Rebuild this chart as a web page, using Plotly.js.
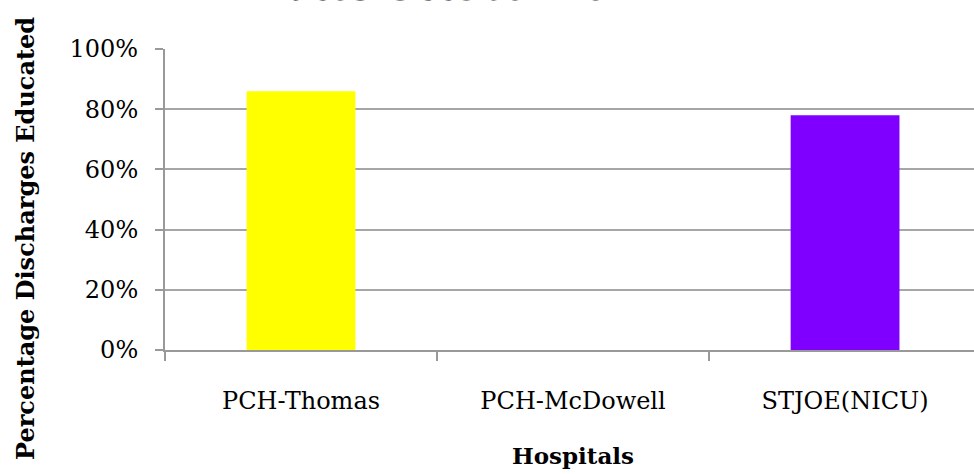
<!DOCTYPE html>
<html>
<head>
<meta charset="utf-8">
<script src="https://cdn.plot.ly/plotly-3.0.1.min.js"></script>
<style>html,body{margin:0;padding:0;background:#fff;}#chart{width:974px;height:474px;}</style>
</head>
<body>
<div id="chart"></div>
<script>
var hospitals = ["PCH-Thomas", "PCH-McDowell", "STJOE(NICU)"];
var educatedRates = [0.86, 0, 0.78];
var barColors = ["#ffff00", "#ffffff", "#8000ff"];
var yTickVals = [0, 0.2, 0.4, 0.6, 0.8, 1.0];
var yTickText = ["0%", "20%", "40%", "60%", "80%", "100%"];
var chartTitle = "Rates October 2011";
var xTitle = "Hospitals";
var yTitle = "Percentage Discharges Educated";

var serif = "DejaVu Serif, Liberation Serif, serif";

var trace = {
  type: "bar",
  x: hospitals,
  y: educatedRates,
  width: 0.4,
  marker: {color: barColors, line: {width: 0}},
  hoverinfo: "x+y"
};

var layout = {
  width: 974, height: 474,
  margin: {l: 165, r: 0, t: 49, b: 124},
  paper_bgcolor: "#ffffff",
  plot_bgcolor: "#ffffff",
  showlegend: false,
  font: {family: serif, color: "#000000", size: 22},
  xaxis: {
    type: "category",
    range: [-0.5, 2.474],
    tickson: "boundaries",
    ticks: "outside",
    ticklen: 9,
    tickwidth: 2,
    tickcolor: "#999999",
    showline: true,
    linecolor: "#999999",
    linewidth: 2,
    showgrid: false,
    zeroline: false,
    tickfont: {family: serif, size: 24},
    ticklabelstandoff: 28
  },
  yaxis: {
    range: [0, 1.0],
    tickvals: yTickVals,
    ticktext: yTickText,
    ticks: "outside",
    ticklen: 8,
    tickwidth: 2,
    tickcolor: "#999999",
    showline: true,
    linecolor: "#999999",
    linewidth: 2,
    showgrid: true,
    gridcolor: "#a6a6a6",
    gridwidth: 2,
    zeroline: false,
    tickfont: {family: serif, size: 24},
    ticklabelstandoff: 12
  },
  annotations: [{
    text: "<b>" + chartTitle + "</b>",
    xref: "paper", yref: "paper",
    x: (458 - 165) / 809, y: 1 + (49 - 10) / 301,
    xanchor: "center", yanchor: "bottom",
    showarrow: false,
    font: {family: serif, size: 36, color: "#000000"}
  }, {
    text: "<b>" + xTitle + "</b>",
    xref: "paper", yref: "paper",
    x: (573 - 165) / 809, y: -(455 - 350) / 301,
    xanchor: "center", yanchor: "middle",
    showarrow: false,
    font: {family: serif, size: 23, color: "#000000"}
  }, {
    text: "<b>" + yTitle + "</b>",
    xref: "paper", yref: "paper",
    x: (25 - 165) / 809, y: (350 - 239) / 301,
    xanchor: "center", yanchor: "middle",
    textangle: -90,
    showarrow: false,
    font: {family: serif, size: 24, color: "#000000"}
  }]
};

Plotly.newPlot("chart", [trace], layout, {displayModeBar: false, staticPlot: true});
</script>
</body>
</html>
